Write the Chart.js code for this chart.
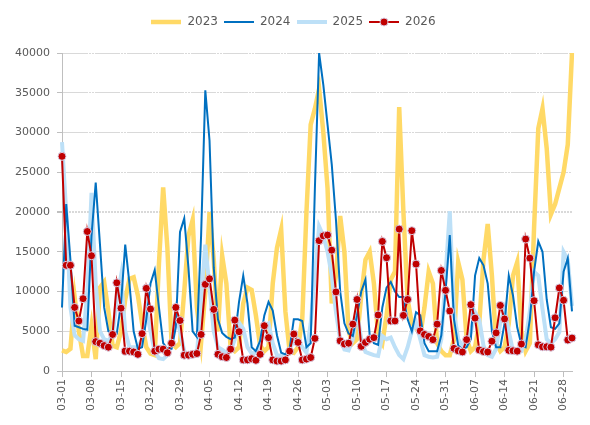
<!DOCTYPE html>
<html><head><meta charset="utf-8">
<script src="https://cdn.jsdelivr.net/npm/chart.js@4.4.1/dist/chart.umd.min.js"></script>
<style>html,body{margin:0;padding:0;background:#fff}</style>
</head><body>
<canvas id="c" width="590" height="425"></canvas>
<script>
// Categories: daily dates 03-01 .. 06-30
const months = [['03',31],['04',30],['05',31],['06',30]];
const categories = [];
months.forEach(([m,n])=>{ for(let d=1; d<=n; d++){ categories.push(m+'-'+String(d).padStart(2,'0')); } });

const seriesNames = ['2023','2024','2025','2026'];

const y2023 = [2600,2400,2800,9300,5000,1900,1900,5700,1500,10500,
11200,7500,3200,3000,5000,9000,11600,11800,9500,6000,
3000,2200,2000,13500,23100,15500,3500,3000,3500,10000,
17000,19000,8000,3600,10000,20000,14000,5000,14500,11000,
3000,2500,3000,8500,10500,10200,7000,3200,2500,3000,
11000,15500,17800,7500,2500,2300,3000,6500,20000,31000,
33000,35500,30000,23000,8500,12000,19500,15000,5000,3500,
4000,9500,14000,15000,11000,4500,3500,7000,11500,12500,
33200,20000,9000,6000,5500,4500,8000,12500,11000,3500,
2500,2000,2000,4000,13700,11500,4000,2500,3000,6000,
14000,18500,12000,3500,2500,3000,6000,12000,13700,5000,
2500,3500,18000,30500,33000,28000,19700,21000,23000,25000,
28500,40000];

const y2024 = [8000,21000,14000,5700,5500,5300,5200,17000,23700,16000,
8000,5000,4800,4700,8500,15900,11000,5000,2800,3000,
6500,11000,12700,8000,3500,2800,2800,5500,17500,19200,
13000,5000,4300,17000,35300,29000,13000,6500,4800,4300,
4000,4200,8700,12000,8500,3000,2500,3800,7000,8700,
7600,4500,2300,2100,2800,6500,6500,6300,3000,3500,
23000,40000,36000,31000,26000,19000,10000,6000,4700,4400,
7000,10000,11500,4500,3500,3300,8000,10500,11200,10000,
9300,9300,6500,5000,7400,7000,3500,2500,2500,2500,
4500,10000,17100,6500,3200,2700,3000,4000,12000,14200,
13300,11000,5000,3000,3000,6000,12000,9500,5500,3300,
3000,6500,12500,16300,15000,9000,5500,5300,6000,12500,
14200,7500];

const y2025 = [28800,20000,8000,4500,4000,3800,10000,22400,11000,5000,
4000,3800,4500,9000,12000,5000,3000,3000,3000,4000,
7800,5000,2500,1600,1500,2000,3300,7400,5000,2500,
2000,1900,2000,9000,15900,10500,5000,3000,2700,2300,
2500,4000,6100,5300,3000,2200,2300,3500,5700,6000,
3500,2000,1900,1900,2800,3800,4000,3000,2300,6000,
12000,18200,17000,15000,12000,7400,4000,2700,2600,4000,
7400,4000,2400,2200,2000,1900,4400,4000,4200,3000,
2000,1500,3000,5000,6100,4000,2000,1800,1700,1800,
4000,12000,20100,7400,4000,3200,3500,4900,7400,6500,
3200,2000,1800,2800,6100,7800,5000,2500,2300,2500,
4000,7500,12500,12000,7800,4000,3500,4000,4900,15000,
14000,8200];

const y2026 = [27000,13300,13300,8000,6300,9100,17550,14500,3700,3500,
3200,3000,4600,11100,7900,2500,2500,2400,2100,4700,
10400,7800,2500,2750,2750,2300,3500,8000,6350,2000,
2000,2100,2200,4600,10900,11600,7750,2100,1800,1700,
2750,6400,4950,1400,1400,1550,1350,2100,5700,4200,
1400,1250,1250,1400,2500,4650,3600,1400,1500,1700,
4100,16400,17000,17100,15200,9950,3800,3400,3500,5900,
9000,3100,3600,4000,4200,7050,16300,14250,6300,6300,
17850,7000,9000,17650,13450,5050,4600,4350,3950,5900,
12650,10150,7550,2850,2550,2400,3950,8350,6650,2650,
2450,2400,3750,4800,8250,6550,2600,2550,2500,3400,
16600,14200,8850,3300,3050,3050,3000,6700,10450,8900,
3900,4150];

const yTickStep = 5000;
const yMax = 40000;
const labelEvery = 7;

const FONT = "'DejaVu Sans', 'Liberation Sans', sans-serif";
const TXT = '#595959';

const styles = [
  {color:'#FFD966', width:4.5, marker:false, order:4},
  {color:'#0070C0', width:2, marker:false, order:2},
  {color:'#BDE0F7', width:4, marker:false, order:3},
  {color:'#C00000', width:2, marker:true, order:1}
];
const values = [y2023, y2024, y2025, y2026];

function makeIcon(st){
  const cv = document.createElement('canvas');
  cv.width = 30; cv.height = 12;
  const g = cv.getContext('2d');
  g.strokeStyle = st.color; g.lineWidth = st.width;
  g.beginPath(); g.moveTo(0,6); g.lineTo(30,6); g.stroke();
  if(st.marker){
    g.fillStyle = st.color; g.strokeStyle = '#D8CFE6'; g.lineWidth = 1;
    g.beginPath(); g.arc(15,6,4,0,Math.PI*2); g.fill(); g.stroke();
  }
  return cv;
}
const icons = styles.map(makeIcon);

const datasets = seriesNames.map((name,i)=>({
  label: name,
  data: values[i],
  borderColor: styles[i].color,
  backgroundColor: styles[i].color,
  borderWidth: styles[i].width,
  pointRadius: styles[i].marker ? 4 : 0,
  pointBackgroundColor: styles[i].color,
  pointBorderColor: '#D8CFE6',
  pointBorderWidth: 1,
  tension: 0,
  fill: false,
  order: styles[i].order
}));

const legendGap = {
  id: 'legendGap',
  beforeInit(chart){
    const fit = chart.legend.fit;
    chart.legend.fit = function(){ fit.call(this); this.height += 15; };
  }
};

new Chart(document.getElementById('c'), {
  type: 'line',
  data: { labels: categories, datasets },
  plugins: [legendGap],
  options: {
    responsive: false,
    animation: false,
    devicePixelRatio: 1,
    layout: { padding: { left: 15, right: 18, top: 10, bottom: 12 } },
    plugins: {
      tooltip: { enabled: false },
      legend: {
        position: 'top',
        align: 'center',
        labels: {
          usePointStyle: true,
          pointStyleWidth: 30,
          boxHeight: 12,
          padding: 6,
          color: TXT,
          font: { family: FONT, size: 12 },
          generateLabels: (chart)=> chart.data.datasets.map((ds,i)=>({
            text: ds.label, pointStyle: icons[i], fillStyle: ds.borderColor,
            strokeStyle: ds.borderColor, lineWidth: 0, hidden: false,
            datasetIndex: i, fontColor: TXT
          }))
        }
      }
    },
    scales: {
      x: {
        offset: false,
        border: { color: '#BFBFBF' },
        grid: {
          offset: false,
          drawOnChartArea: false,
          drawTicks: true,
          tickLength: 6,
          tickColor: (c)=> (c.index % labelEvery === 0) ? '#BFBFBF' : 'rgba(0,0,0,0)'
        },
        ticks: {
          autoSkip: false,
          maxRotation: 90,
          minRotation: 90,
          padding: 2,
          color: TXT,
          font: { family: FONT, size: 11 },
          callback: (v,i)=> (i % labelEvery === 0) ? categories[i] : ''
        }
      },
      y: {
        min: 0, max: yMax,
        afterFit(scale){ scale.width = 47; },
        border: {
          color: '#BFBFBF',
          dash: (c)=> (c.tick && c.tick.value === 20000) ? [2,1] : [25,1,2,1,2,1]
        },
        grid: {
          color: '#D9D9D9', tickColor: '#BFBFBF', tickLength: 5,
          lineWidth: (c)=> (c.tick && c.tick.value === 20000) ? 2 : 1
        },
        ticks: { stepSize: yTickStep, color: TXT, padding: 7, font: { family: FONT, size: 11 },
                 callback: (v)=> String(v) }
      }
    }
  }
});
</script>
</body></html>
